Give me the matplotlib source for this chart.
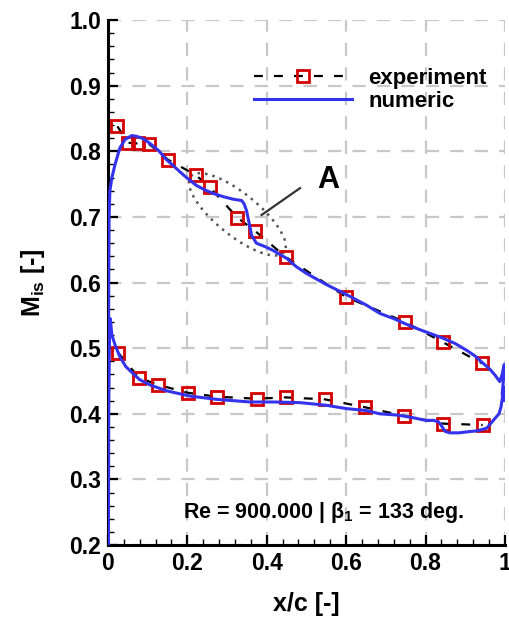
import numpy as np
import matplotlib
matplotlib.use('Agg')
import matplotlib.pyplot as plt
from matplotlib.ticker import MultipleLocator

plt.rcParams['font.family'] = ['Liberation Sans', 'DejaVu Sans']
plt.rcParams['font.weight'] = 'bold'
plt.rcParams['mathtext.fontset'] = 'custom'
plt.rcParams['mathtext.bf'] = 'Liberation Sans:bold'
plt.rcParams['mathtext.rm'] = 'Liberation Sans:bold'

# experiment, suction side
exp_ss_x = [0.024, 0.051, 0.076, 0.104, 0.152, 0.221, 0.257, 0.326, 0.370, 0.448, 0.60, 0.748, 0.844, 0.942]
exp_ss_y = [0.838, 0.813, 0.812, 0.811, 0.787, 0.764, 0.745, 0.699, 0.679, 0.639, 0.578, 0.540, 0.509, 0.477]
# experiment, pressure side
exp_ps_x = [0.026, 0.078, 0.127, 0.202, 0.275, 0.375, 0.448, 0.547, 0.647, 0.746, 0.845, 0.944]
exp_ps_y = [0.493, 0.455, 0.444, 0.432, 0.426, 0.423, 0.425, 0.422, 0.410, 0.397, 0.385, 0.383]

# numeric, one closed loop: leading edge -> suction side -> trailing edge -> pressure side
num_x = [0.0, 0.001, 0.002, 0.003, 0.005, 0.01, 0.018, 0.03, 0.043, 0.06, 0.072, 0.09, 0.106,
         0.128, 0.148, 0.165, 0.181, 0.2, 0.223, 0.245, 0.265, 0.29, 0.316, 0.337, 0.343,
         0.349, 0.356, 0.362, 0.374, 0.395, 0.416, 0.45, 0.475, 0.5, 0.55, 0.6, 0.65,
         0.685, 0.72, 0.769, 0.8, 0.845, 0.875, 0.903, 0.925, 0.945, 0.962, 0.975, 0.987,
         0.993, 0.998, 1.0, 0.996, 0.993, 0.998, 1.0, 0.995, 0.99, 0.985,
         0.975, 0.954, 0.93, 0.912, 0.885, 0.861, 0.85, 0.845, 0.838, 0.832, 0.82, 0.8,
         0.769, 0.73, 0.685, 0.65, 0.6, 0.55, 0.484, 0.42, 0.358, 0.274, 0.207, 0.148,
         0.106, 0.08, 0.064, 0.045, 0.03, 0.018, 0.01, 0.006, 0.004, 0.002, 0.001]
num_y = [0.15, 0.35, 0.6, 0.70, 0.74, 0.76, 0.78, 0.805, 0.818, 0.824, 0.823, 0.819, 0.812,
         0.801, 0.787, 0.778, 0.769, 0.759, 0.748, 0.741, 0.736, 0.731, 0.727, 0.725, 0.72,
         0.71, 0.69, 0.672, 0.66, 0.655, 0.649, 0.637, 0.624, 0.614, 0.597, 0.582, 0.566,
         0.553, 0.545, 0.532, 0.525, 0.515, 0.507, 0.497, 0.488, 0.477, 0.468, 0.459, 0.449,
         0.46, 0.475, 0.47, 0.45, 0.43, 0.42, 0.44, 0.43, 0.41, 0.40,
         0.393, 0.378, 0.374, 0.373, 0.371, 0.371, 0.373, 0.377, 0.384, 0.388, 0.390, 0.390,
         0.394, 0.398, 0.400, 0.405, 0.408, 0.413, 0.417, 0.418, 0.418, 0.422, 0.427, 0.435,
         0.444, 0.452, 0.461, 0.472, 0.487, 0.505, 0.52, 0.545, 0.53, 0.4, 0.15]

fig = plt.figure(figsize=(5.09, 6.19), dpi=100)
ax = fig.add_axes([0.212, 0.1195, 0.78, 0.848])

ax.grid(True, which='major', color='#c8c8c8', linestyle=(0, (6, 5)), linewidth=1.6)
ax.set_axisbelow(True)

ax.plot(exp_ss_x, exp_ss_y, color='black', linestyle=(0, (4, 5)), linewidth=1.6,
        marker='s', markersize=9, markerfacecolor='none', markeredgecolor='#d40000',
        markeredgewidth=2, label='experiment', zorder=3)
ax.plot(exp_ps_x, exp_ps_y, color='black', linestyle=(0, (4, 5)), linewidth=1.6,
        marker='s', markersize=9, markerfacecolor='none', markeredgecolor='#d40000',
        markeredgewidth=2, zorder=3)
ax.plot(num_x, num_y, color='#3333ee', linewidth=2.2, label='numeric', zorder=4)

# dotted ellipse around the shock region (drawn in pixel-like units)
t = np.linspace(0, 2 * np.pi, 200)
a_px, b_px, ang = 60, 21, np.deg2rad(39)
ex_px = a_px * np.cos(t) * np.cos(ang) - b_px * np.sin(t) * np.sin(ang)
ey_px = a_px * np.cos(t) * np.sin(ang) + b_px * np.sin(t) * np.cos(ang)
ax.plot(0.326 + ex_px / 397, 0.704 - ey_px / 656, color='#555555', linestyle=(0, (1, 2)),
        linewidth=1.8, zorder=2)
ax.plot([0.387, 0.484], [0.703, 0.744], color='#333333', linewidth=1.6, zorder=2)
ax.text(0.528, 0.757, 'A', fontsize=22, fontweight='bold', ha='left', va='center')

ax.text(0.542, 0.25, r'Re = 900.000 | β$_\mathbf{1}$ = 133 deg.', fontsize=15.5,
        fontweight='bold', ha='center', va='center')

ax.set_xlim(0, 1)
ax.set_ylim(0.2, 1.0)
ax.xaxis.set_minor_locator(MultipleLocator(0.04))
ax.yaxis.set_minor_locator(MultipleLocator(0.02))
ax.set_xticks([0, 0.2, 0.4, 0.6, 0.8, 1.0])
ax.set_xticklabels(['0', '0.2', '0.4', '0.6', '0.8', '1'])
ax.set_yticks([0.2, 0.3, 0.4, 0.5, 0.6, 0.7, 0.8, 0.9, 1.0])
ax.set_yticklabels(['0.2', '0.3', '0.4', '0.5', '0.6', '0.7', '0.8', '0.9', '1.0'])
ax.tick_params(which='major', direction='in', length=7, width=1.6, labelsize=16.5, pad=5)
ax.tick_params(which='minor', direction='in', length=4, width=1.0)
for s in ['top', 'right']:
    ax.spines[s].set_visible(False)
for s in ['left', 'bottom']:
    ax.spines[s].set_linewidth(2.2)

ax.set_xlabel('x/c [-]', fontsize=18, fontweight='bold', labelpad=12)
ax.set_ylabel(r'M$_{\mathbf{is}}$ [-]', fontsize=18, fontweight='bold', labelpad=16)

leg = ax.legend(loc='upper left', bbox_to_anchor=(0.34, 0.93), frameon=False,
                fontsize=16, handlelength=4.4, numpoints=1, handletextpad=0.75,
                borderpad=0, labelspacing=0.1)

fig.savefig('out.png', dpi=100)
